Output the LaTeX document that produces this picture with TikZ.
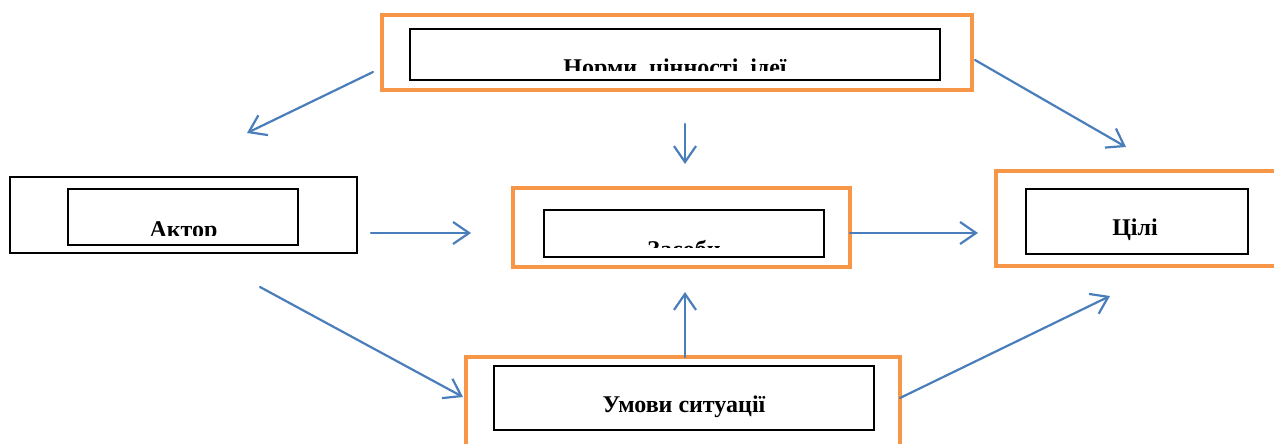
\documentclass[tikz,border=0pt]{standalone}
\usepackage{fontspec}
\setmainfont{Liberation Serif}
\usetikzlibrary{arrows.meta}
\definecolor{accorange}{HTML}{F79646}
\definecolor{arrblue}{HTML}{4A7EBB}
\tikzset{
  outerbox/.style={draw=accorange, line width=4.5pt, minimum width=#1, inner sep=0pt},
  blackouter/.style={draw=black, line width=1.8pt, inner sep=0pt},
  innerbox/.style={draw=black, line width=1.4pt, inner sep=0pt},
  lbl/.style={font=\fontsize{24}{28}\selectfont\bfseries, anchor=base, inner sep=0pt},
  arr/.style={draw=arrblue, line width=2.2pt, line cap=round, -{Straight Barb[length=16pt,width=22pt,line width=2.2pt]}},
}
\begin{document}
\begin{tikzpicture}[x=1pt,y=-1pt]
\useasboundingbox (0,0) rectangle (1274,444);
% boxes
\node[outerbox=590pt, minimum height=75pt] (normO) at (677,52.5) {};
\node[innerbox, minimum width=530pt, minimum height=51pt] (normI) at (675,54.5) {};
\node[blackouter, minimum width=347pt, minimum height=76pt] (aktO) at (183.5,215) {};
\node[innerbox, minimum width=230pt, minimum height=56pt] (aktI) at (183,217) {};
\node[outerbox=337pt, minimum height=79pt] (zasO) at (681.5,227.5) {};
\node[innerbox, minimum width=280pt, minimum height=47pt] (zasI) at (684,233.5) {};
\node[outerbox=288pt, minimum height=95pt] (tsiliO) at (1140,218.5) {};
\node[innerbox, minimum width=222pt, minimum height=65pt] (tsiliI) at (1137,221.5) {};
\node[outerbox=434pt, minimum height=103pt] (umO) at (683,408.5) {};
\node[innerbox, minimum width=380pt, minimum height=64pt] (umI) at (684,398) {};
% texts (clipped as in the reference)
\begin{scope}
\clip (410,29) rectangle (940,71);
\node[lbl] (normT) at (675,75) {Норми, цінності, ідеї};
\end{scope}
\begin{scope}
\clip (68,189) rectangle (298,235);
\node[lbl] (aktT) at (183.5,237) {Актор};
\end{scope}
\begin{scope}
\clip (544,211) rectangle (824,247.5);
\node[lbl] (zasT) at (684,257) {Засоби};
\end{scope}
\node[lbl] (tsiliT) at (1135,235) {Цілі};
\node[lbl] (umT) at (684,412) {Умови ситуації};
% arrow endpoints
\coordinate (a1s) at (373,72);   \coordinate (a1e) at (247,133);
\coordinate (a2s) at (975,60);   \coordinate (a2e) at (1126,147);
\coordinate (a3s) at (685,124);  \coordinate (a3e) at (685,164);
\coordinate (a4s) at (371,233);  \coordinate (a4e) at (471,233);
\coordinate (a5s) at (850,233);  \coordinate (a5e) at (978,233);
\coordinate (a6s) at (260,287);  \coordinate (a6e) at (463,397);
\coordinate (a7s) at (685,357);  \coordinate (a7e) at (685,292);
\coordinate (a8s) at (900,398);  \coordinate (a8e) at (1110,296);
\draw[arr] (a1s) -- (a1e);
\draw[arr] (a2s) -- (a2e);
\draw[arr] (a3s) -- (a3e);
\draw[arr] (a4s) -- (a4e);
\draw[arr] (a5s) -- (a5e);
\draw[arr] (a6s) -- (a6e);
\draw[arr] (a7s) -- (a7e);
\draw[arr] (a8s) -- (a8e);
\end{tikzpicture}
\end{document}
